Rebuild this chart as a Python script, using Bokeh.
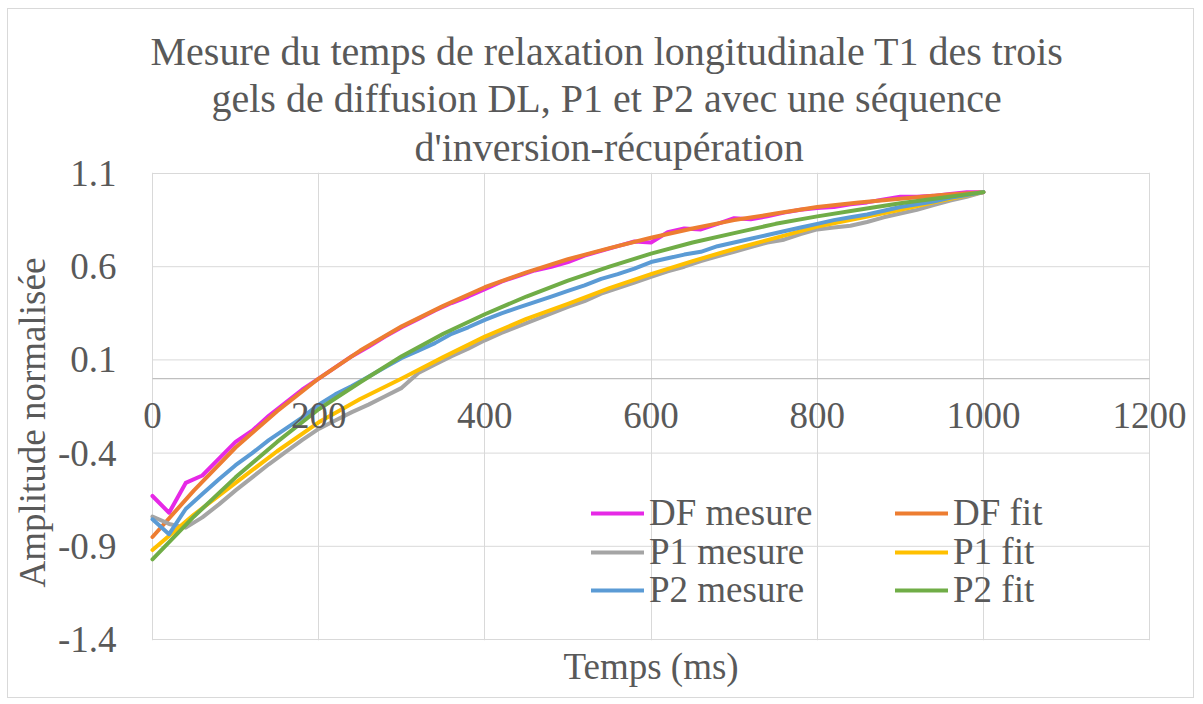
from bokeh.plotting import figure
from bokeh.models import (Range1d, FixedTicker, Legend, LegendItem, Title, LinearAxis,
                          CustomJSTickFormatter)
from bokeh.embed import file_html
from bokeh.resources import INLINE

# ---------------- data ----------------
t_meas = [0, 20, 40, 60, 80, 100, 120, 140, 160, 180, 200, 220, 240, 260, 280,
          300, 320, 340, 360, 380, 400, 420, 440, 460, 480, 500, 520, 540, 560,
          580, 600, 620, 640, 660, 680, 700, 720, 740, 760, 780, 800, 820, 840,
          860, 880, 900, 920, 940, 960, 980, 1000]
df_mesure = [-0.63, -0.72, -0.56, -0.52, -0.43, -0.34, -0.28, -0.20, -0.13, -0.06,
             0.0, 0.06, 0.12, 0.17, 0.225, 0.275, 0.32, 0.365, 0.405, 0.44,
             0.48, 0.52, 0.55, 0.58, 0.60, 0.625, 0.66, 0.685, 0.71, 0.735,
             0.73, 0.785, 0.805, 0.80, 0.83, 0.86, 0.855, 0.87, 0.89, 0.905,
             0.915, 0.92, 0.935, 0.945, 0.96, 0.975, 0.975, 0.98, 0.99, 1.0, 1.0]
p1_mesure = [-0.74, -0.78, -0.80, -0.745, -0.675, -0.60, -0.53, -0.46, -0.395, -0.33,
             -0.27, -0.225, -0.18, -0.14, -0.095, -0.05, 0.03, 0.075, 0.12, 0.16,
             0.205, 0.245, 0.28, 0.315, 0.35, 0.385, 0.415, 0.455, 0.485, 0.515,
             0.545, 0.575, 0.60, 0.63, 0.655, 0.68, 0.705, 0.73, 0.745, 0.775,
             0.80, 0.81, 0.82, 0.84, 0.865, 0.885, 0.905, 0.93, 0.955, 0.975, 1.0]
p2_mesure = [-0.755, -0.835, -0.70, -0.62, -0.54, -0.465, -0.40, -0.33, -0.27, -0.21,
             -0.14, -0.085, -0.04, 0.01, 0.06, 0.11, 0.15, 0.19, 0.24, 0.275,
             0.315, 0.35, 0.38, 0.41, 0.44, 0.47, 0.50, 0.535, 0.56, 0.59,
             0.625, 0.645, 0.665, 0.68, 0.71, 0.73, 0.75, 0.77, 0.79, 0.81,
             0.83, 0.85, 0.865, 0.88, 0.90, 0.92, 0.935, 0.95, 0.97, 0.985, 1.0]

t_fit = [0, 50, 100, 150, 200, 250, 300, 350, 400, 450, 500, 550, 600, 650, 700,
         750, 800, 850, 900, 950, 1000]
df_fit = [-0.85, -0.60, -0.37, -0.175, 0.0, 0.15, 0.28, 0.39, 0.49, 0.57, 0.64,
          0.70, 0.755, 0.805, 0.85, 0.885, 0.92, 0.945, 0.965, 0.985, 1.0]
p1_fit = [-0.92, -0.73, -0.56, -0.39, -0.235, -0.11, 0.0, 0.115, 0.225, 0.32, 0.40,
          0.485, 0.56, 0.63, 0.695, 0.755, 0.815, 0.86, 0.905, 0.955, 1.0]
p2_fit = [-0.97, -0.74, -0.53, -0.34, -0.165, -0.02, 0.12, 0.24, 0.345, 0.44, 0.525,
          0.60, 0.67, 0.73, 0.78, 0.83, 0.87, 0.905, 0.94, 0.97, 1.0]

series_names = ["DF mesure", "DF fit", "P1 mesure", "P1 fit", "P2 mesure", "P2 fit"]
series_colors = ["#E629E6", "#ED7D31", "#A5A5A5", "#FFC000", "#5B9BD5", "#70AD47"]

x_ticks = [0, 200, 400, 600, 800, 1000, 1200]
y_ticks = [-1.4, -0.9, -0.4, 0.1, 0.6, 1.1]

title_lines = ["Mesure du temps de relaxation longitudinale T1 des trois",
               "gels de diffusion DL, P1 et P2 avec une séquence",
               "d'inversion-récupération"]
x_title = "Temps (ms)"
y_title = "Amplitude normalisée"

FONT = "Liberation Serif"
TXT = "#595959"
GRID = "#D9D9D9"

# ---------------- figure ----------------
# the frame is a little wider than the 0..1200 grid so that the "0" and "1200"
# labels of the axis crossing at y=0 are not clipped
p = figure(width=1187, height=690,
           x_range=Range1d(-12.0, 1248.05), y_range=Range1d(-1.40536, 1.10536),
           output_backend="svg", toolbar_location=None, title=None,
           min_border_left=132, min_border_right=6, min_border_top=163,
           min_border_bottom=59)
p.styles = {"margin-left": "7px", "margin-top": "8px", "border": "1px solid #D9D9D9"}
p.background_fill_color = "white"
p.border_fill_color = "white"
p.outline_line_color = None

# title lines (first added sits closest to the plot)
offsets = [8, 69, 272]
standoffs = [0, 0, 5]
for line, off, so in reversed(list(zip(title_lines, offsets, standoffs))):
    p.add_layout(Title(text=line, align="left", offset=off, text_font=FONT,
                       text_font_size="40px", text_font_style="normal",
                       text_color=TXT, standoff=so), "above")

# default bottom axis not used
p.xaxis.visible = False

# x axis crossing at y = 0 (tick labels under the zero line)
x0_axis = LinearAxis(fixed_location=0, ticker=FixedTicker(ticks=x_ticks))
x0_axis.axis_line_color = None
x0_axis.major_tick_line_color = None
x0_axis.minor_tick_line_color = None
x0_axis.major_label_standoff = 18
x0_axis.major_label_text_font = FONT
x0_axis.major_label_text_font_size = "37px"
x0_axis.major_label_text_color = TXT
p.add_layout(x0_axis, "below")

# x axis title, centred under the 0..1200 grid
p.add_layout(Title(text=x_title, align="left", offset=421, text_font=FONT,
                   text_font_size="37px", text_font_style="normal",
                   text_color=TXT, standoff=6), "below")

p.yaxis.ticker = FixedTicker(ticks=y_ticks)
p.yaxis.formatter = CustomJSTickFormatter(code="return tick.toFixed(1);")
p.yaxis.axis_line_color = None
p.yaxis.major_tick_line_color = None
p.yaxis.minor_tick_line_color = None
p.yaxis.major_label_standoff = 20
p.yaxis.major_label_text_font = FONT
p.yaxis.major_label_text_font_size = "37px"
p.yaxis.major_label_text_color = TXT

# y axis title (vertical)
p.add_layout(Title(text=y_title, align="left", offset=53, text_font=FONT,
                   text_font_size="37px", text_font_style="normal",
                   text_color=TXT, standoff=3), "left")

p.xgrid.ticker = FixedTicker(ticks=x_ticks)
p.xgrid.grid_line_color = GRID
p.ygrid.grid_line_color = None

# horizontal gridlines limited to the 0..1200 span, and the y = 0 axis line
n_y = len(y_ticks)
p.segment(x0=[x_ticks[0]] * n_y, x1=[x_ticks[-1]] * n_y, y0=y_ticks, y1=y_ticks,
          line_color=GRID, line_width=1)
p.segment(x0=[x_ticks[0]], x1=[x_ticks[-1]], y0=[0], y1=[0],
          line_color="#BFBFBF", line_width=1.2)

# series
xs = [t_meas, t_fit, t_meas, t_fit, t_meas, t_fit]
ys = [df_mesure, df_fit, p1_mesure, p1_fit, p2_mesure, p2_fit]
renderers = []
for x, y, c in zip(xs, ys, series_colors):
    r = p.line(x, y, line_color=c, line_width=4, line_join="round", line_cap="round")
    renderers.append(r)


def make_legend(i, loc):
    leg = Legend(items=[LegendItem(label=series_names[i], renderers=[renderers[i]])],
                 location=loc, orientation="vertical")
    leg.label_text_font = FONT
    leg.label_text_font_size = "37px"
    leg.label_text_color = TXT
    leg.glyph_width = 53
    leg.glyph_height = 30
    leg.label_height = 30
    leg.label_standoff = 5
    leg.spacing = 0
    leg.padding = 0
    leg.margin = 0
    leg.border_line_color = None
    leg.background_fill_alpha = 0
    return leg


col_x = [449, 753]
row_y = [106, 67, 29]
for k in range(6):
    p.add_layout(make_legend(k, (col_x[k % 2], row_y[k // 2])))

open("out.html", "w").write(file_html(p, INLINE))
